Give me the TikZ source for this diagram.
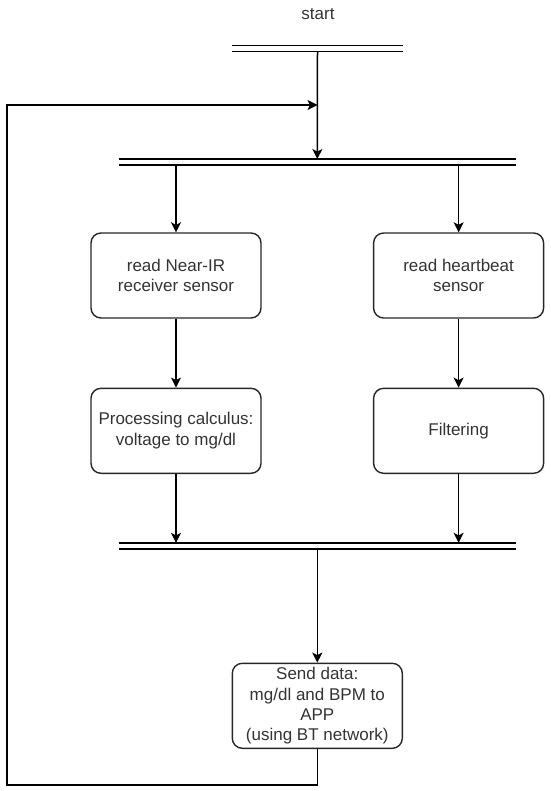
\documentclass[tikz,border=0pt]{standalone}
\usepackage{fontspec}
\setmainfont{Liberation Sans}
\usetikzlibrary{arrows.meta,positioning,calc}

\begin{document}
\begin{tikzpicture}[
        x=1pt, y=-1pt,
        font=\fontsize{17}{20.4}\selectfont,
        every node/.style={align=center, inner sep=2pt},
        task/.style  ={rectangle, rounded corners=10pt, draw=black!85,
                       line width=1.4pt, text=black!80,
                       minimum width=170pt, minimum height=85pt},
        bar/.style   ={rectangle, inner sep=0pt, minimum height=5.7pt},
        flow/.style  ={-{Stealth[length=10pt,width=10pt,inset=2.5pt]},
                       line width=1.5pt, color=black},
        rail/.style  ={line width=1.5pt, color=black},
    ]
        \useasboundingbox (0,0) rectangle (550,791);

        % ===================== Inicio y barras de sincronizacion =====================
        \node[text=black!80] (start) at (318, 14) {start};
        \node[bar, minimum width=170.5pt] (fork0) at (317.5, 48.6) {};
        \node[bar, minimum width=397pt]   (fork1) at (317.3, 162.1) {};
        \node[bar, minimum width=397pt]   (join1) at (317.3, 545.9) {};

        \foreach \b in {fork0, fork1, join1} {
            \draw[rail] (\b.north west) -- (\b.north east);
            \draw[rail] (\b.south west) -- (\b.south east);
        }

        % ===================== Rama izquierda (Near-IR) =====================
        \node[task] (nir)  at (176.0, 275.5) {read Near-IR\\receiver sensor};
        \node[task] (calc) at (176.0, 430.8) {Processing calculus:\\voltage to mg/dl};

        % ===================== Rama derecha (pulso) =====================
        \node[task] (hb)   at (458.6, 275.5) {read heartbeat\\sensor};
        \node[task] (filt) at (458.6, 430.8) {Filtering};

        % ===================== Envio =====================
        \node[task] (send) at (317.3, 705.8) {Send data:\\mg/dl and BPM to\\APP\\(using BT network)};

        % puntos del lazo de retorno
        \coordinate (back) at (fork0.south |- 0,105);
        \coordinate (lowl) at (7, 785);
        \coordinate (upl)  at (7, 105);

        % ===================== Flechas =====================
        \draw[flow] (fork0.south) -- (fork1.north);
        \draw[flow] (nir.north |- fork1.south) -- (nir.north);
        \draw[flow] (hb.north |- fork1.south) -- (hb.north);
        \draw[flow] (nir) -- (calc);
        \draw[flow] (hb) -- (filt);
        \draw[flow] (calc.south) -- (calc.south |- join1.north);
        \draw[flow] (filt.south) -- (filt.south |- join1.north);
        \draw[flow] (join1.south) -- (send.north);

        % Lazo de vuelta al inicio.
        \draw[flow] (send.south) |- (lowl) -- (upl) -- (back);
    \end{tikzpicture}
\end{document}
